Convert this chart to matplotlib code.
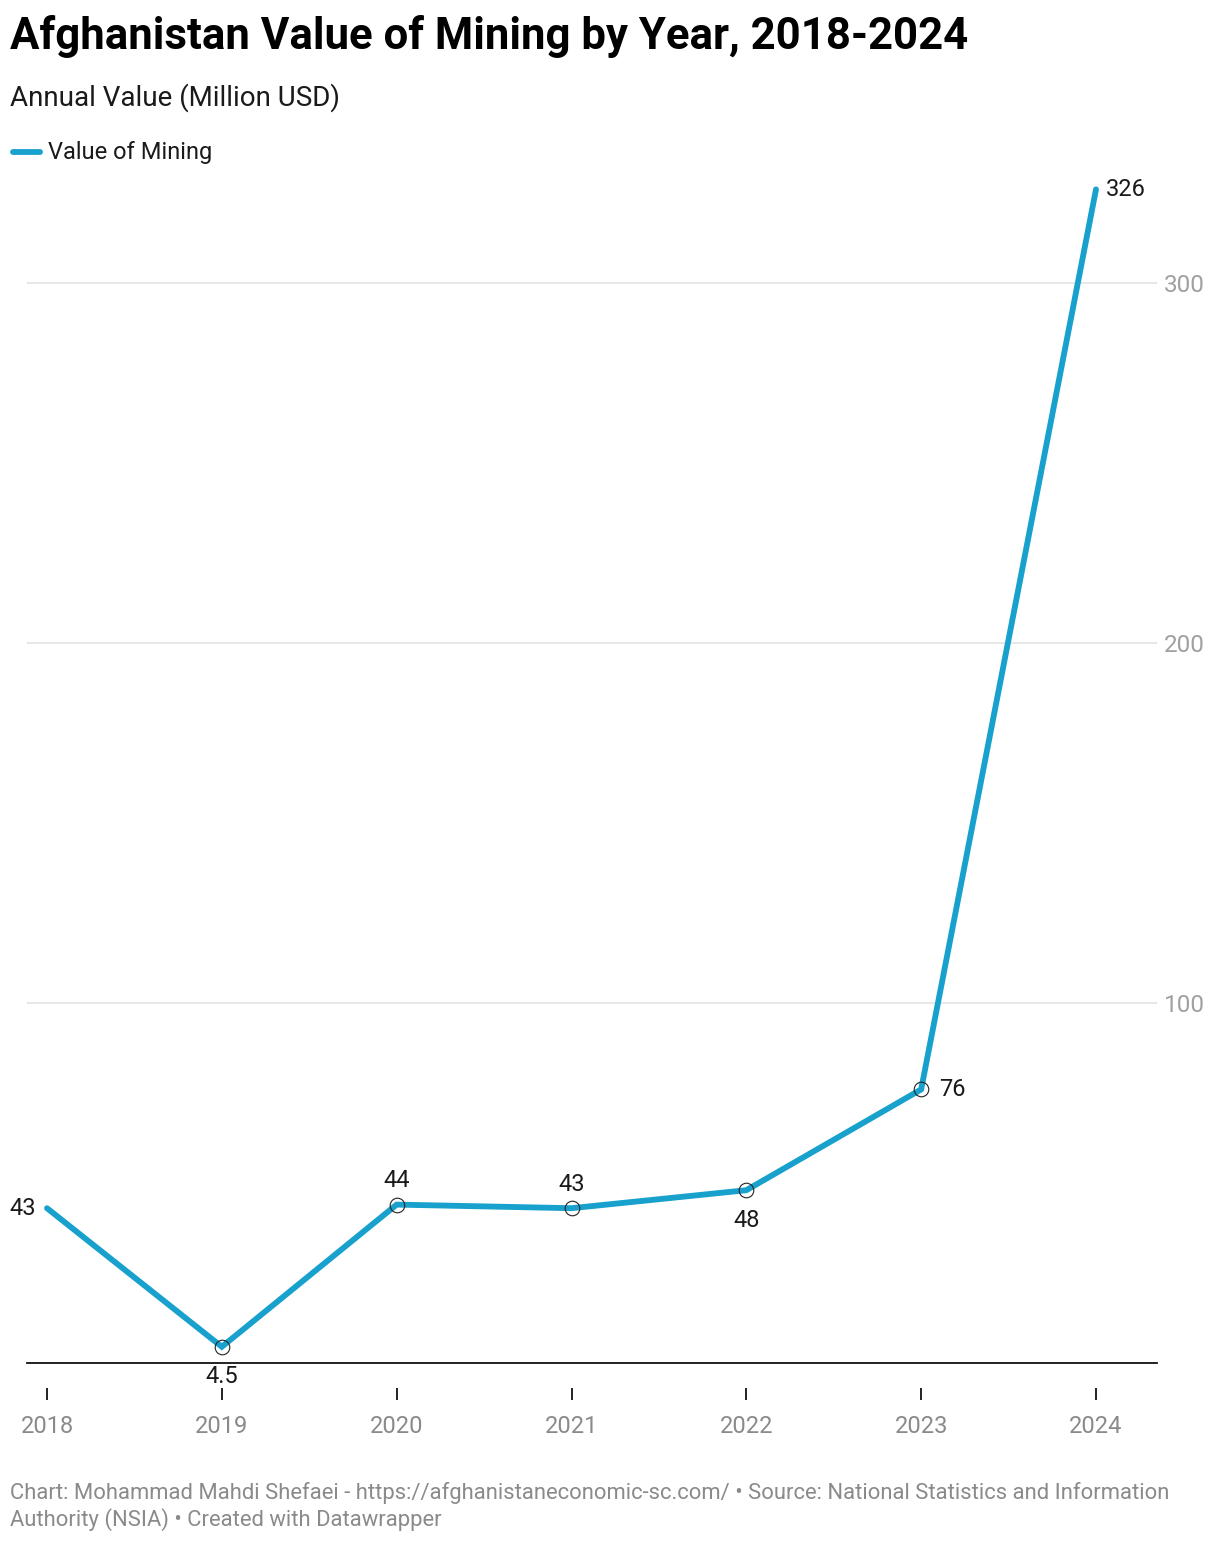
import matplotlib
matplotlib.use("Agg")
import matplotlib.pyplot as plt
from matplotlib.lines import Line2D

plt.rcParams['font.family'] = ['Roboto', 'DejaVu Sans']

years = [2018, 2019, 2020, 2021, 2022, 2023, 2024]
values = [43, 4.5, 44, 43, 48, 76, 326]
labels = ["43", "4.5", "44", "43", "48", "76", "326"]
yticks = [100, 200, 300]
ytick_labels = ["100", "200", "300"]

title = "Afghanistan Value of Mining by Year, 2018-2024"
subtitle = "Annual Value (Million USD)"
legend_label = "Value of Mining"
footer = ("Chart: Mohammad Mahdi Shefaei - https://afghanistaneconomic-sc.com/ \u2022 Source: National Statistics and Information\n"
          "Authority (NSIA) \u2022 Created with Datawrapper")

W, H = 1220, 1542
fig = plt.figure(figsize=(W / 100, H / 100), dpi=100)

def fx(px):
    return px / W

def fy(py):
    return 1 - py / H

ax_left, ax_right = 27, 1157
ax_top, ax_bottom = 175, 1363
ax = fig.add_axes([fx(ax_left), fy(ax_bottom), fx(ax_right - ax_left), (ax_bottom - ax_top) / H])

LINE = "#18a1cd"
ax.plot(years, values, color=LINE, lw=4.2, solid_capstyle="round", solid_joinstyle="miter", zorder=3)
ax.plot(years[1:-1], values[1:-1], linestyle="none", marker="o", ms=10.5, mfc="none",
        mec="#222222", mew=0.8, zorder=4)

step = (1096 - 47) / 6
ax.set_xlim(2018 - (47 - ax_left) / step, 2024 + (ax_right - 1096) / step)
ax.set_ylim(0, (ax_bottom - ax_top) / 3.6)

for s in ["top", "left", "right"]:
    ax.spines[s].set_visible(False)
ax.spines["bottom"].set_color("#111111")
ax.spines["bottom"].set_linewidth(1.3)

ax.set_xticks([])
ax.yaxis.tick_right()
ax.set_yticks(yticks)
ax.set_yticklabels(ytick_labels)
ax.tick_params(axis="y", length=0, pad=5, labelsize=17.5, labelcolor="#a0a0a0")
for lab in ax.get_yticklabels():
    lab.set_verticalalignment("center_baseline")
ax.grid(axis="y", color="#e0e0e0", lw=1.1)
ax.set_axisbelow(True)

# secondary x axis with detached ticks
sec = ax.secondary_xaxis(-(1388 - ax_bottom) / (ax_bottom - ax_top))
sec.spines["bottom"].set_visible(False)
sec.set_xticks(years)
sec.set_xticklabels([str(y) for y in years])
sec.tick_params(axis="x", length=8.6, width=1.4, color="#222222", pad=11,
                labelsize=17, labelcolor="#8a8a8a")

# data labels
offsets = {
    0: ((-8, 0), "right", "center"),
    1: ((0, -21.5), "center", "center"),
    2: ((0, 17.5), "center", "center"),
    3: ((0, 17), "center", "center"),
    4: ((0, -21.5), "center", "center"),
    5: ((13, 0), "left", "center"),
    6: ((7, 0), "left", "center"),
}
for i, (x, v, t) in enumerate(zip(years, values, labels)):
    off, ha, va = offsets[i]
    ax.annotate(t, (x, v), xytext=off, textcoords="offset points", ha=ha, va=va,
                fontsize=17, color="#1a1a1a", zorder=5, annotation_clip=False)

# titles
fig.text(fx(10), fy(36), title, fontsize=31.5, fontweight="bold", color="#000000", va="center", ha="left")
fig.text(fx(10), fy(98), subtitle, fontsize=20, color="#1a1a1a", va="center", ha="left")

# legend
fig.add_artist(Line2D([fx(13), fx(40)], [fy(152), fy(152)], color=LINE, lw=4.2,
                      solid_capstyle="round", transform=fig.transFigure))
fig.text(fx(48), fy(152), legend_label, fontsize=17, color="#1a1a1a", va="center", ha="left")

# footer
fig.text(fx(10), fy(1482), footer, fontsize=15.85, color="#8a8a8a", va="top", ha="left", linespacing=1.2)

fig.savefig("out.png", dpi=100, facecolor="white")
